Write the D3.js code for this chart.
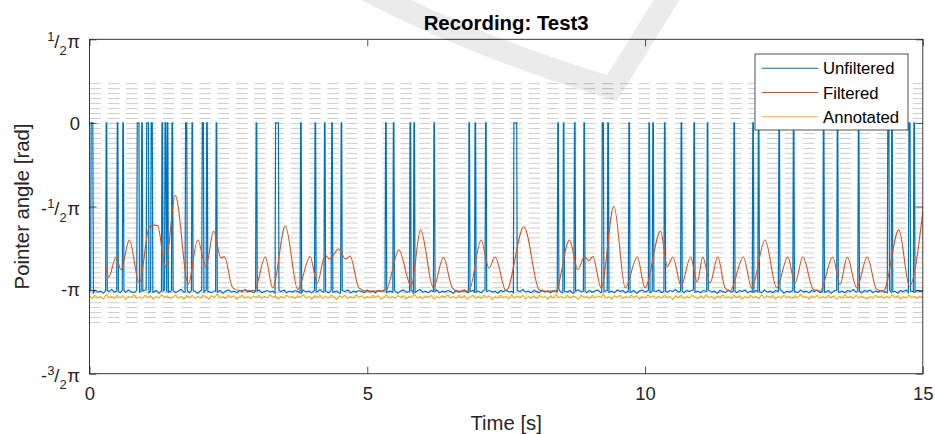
<!DOCTYPE html>
<html>
<head>
<meta charset="utf-8">
<script src="https://cdn.jsdelivr.net/npm/d3@7"></script>
<style>
  body { margin: 0; background: #fff; }
  svg { display: block; font-family: "Liberation Sans", Arial, Helvetica, sans-serif; }
</style>
</head>
<body>
<svg id="chart" width="935" height="434"></svg>
<script>
// ---- data ----
const chartTitle = 'Recording: Test3';
const xLabel = 'Time [s]';
const yLabel = 'Pointer angle [rad]';
const xTicks = [0, 5, 10, 15];
const yTicks = [0.5 * Math.PI, 0, -0.5 * Math.PI, -Math.PI, -1.5 * Math.PI];
// [sign, numerator, denominator] or plain text
const yTickLabels = [['', '1', '2'], '0', ['-', '1', '2'], '-\u03c0', ['-', '3', '2']];
const seriesNames = ['Unfiltered', 'Filtered', 'Annotated'];

// reference scale marks (dashed grey lines), rad
const markTop = 0.737, markStep = 0.0935, markCount = 49;

// baseline samples every 0.05 s, t = 0 .. 15
const sampleStep = 0.05;
const unfilteredBase = [
  -3.15,-3.19,-3.14,-3.18,-3.16,-3.20,-3.15,-3.17,-3.13,-3.18,-3.16,-3.19,-3.15,-3.18,-3.14,-3.17,-3.19,-3.15,-3.18,-3.16,
  -3.14,-3.19,-3.16,-3.18,-3.15,-3.20,-3.16,-3.14,-3.18,-3.17,-3.15,-3.19,-3.16,-3.13,-3.18,-3.16,-3.19,-3.15,-3.17,-3.20,
  -3.15,-3.18,-3.14,-3.17,-3.19,-3.16,-3.18,-3.15,-3.20,-3.16,-3.14,-3.18,-3.16,-3.19,-3.15,-3.17,-3.13,-3.18,-3.16,-3.19,
  -3.16,-3.14,-3.19,-3.17,-3.15,-3.18,-3.16,-3.20,-3.15,-3.17,-3.14,-3.19,-3.16,-3.18,-3.15,-3.17,-3.19,-3.14,-3.18,-3.16,
  -3.19,-3.15,-3.17,-3.13,-3.18,-3.16,-3.19,-3.15,-3.18,-3.16,-3.20,-3.15,-3.17,-3.14,-3.19,-3.16,-3.18,-3.15,-3.17,-3.19,
  -3.14,-3.18,-3.16,-3.19,-3.15,-3.17,-3.14,-3.19,-3.16,-3.18,-3.15,-3.20,-3.16,-3.14,-3.18,-3.17,-3.15,-3.19,-3.16,-3.13,
  -3.18,-3.16,-3.19,-3.15,-3.17,-3.14,-3.19,-3.16,-3.18,-3.15,-3.17,-3.20,-3.15,-3.18,-3.16,-3.14,-3.19,-3.17,-3.15,-3.18,
  -3.16,-3.19,-3.14,-3.17,-3.15,-3.18,-3.16,-3.20,-3.15,-3.17,-3.14,-3.18,-3.16,-3.19,-3.15,-3.17,-3.13,-3.18,-3.16,-3.19,
  -3.15,-3.17,-3.19,-3.14,-3.18,-3.16,-3.19,-3.15,-3.17,-3.14,-3.19,-3.16,-3.18,-3.15,-3.20,-3.16,-3.14,-3.18,-3.16,-3.19,
  -3.15,-3.18,-3.16,-3.14,-3.19,-3.17,-3.15,-3.18,-3.16,-3.19,-3.14,-3.17,-3.15,-3.19,-3.16,-3.18,-3.15,-3.20,-3.16,-3.14,
  -3.18,-3.15,-3.19,-3.16,-3.17,-3.14,-3.19,-3.16,-3.18,-3.15,-3.17,-3.13,-3.18,-3.16,-3.19,-3.15,-3.17,-3.14,-3.18,-3.16,
  -3.19,-3.15,-3.17,-3.14,-3.18,-3.16,-3.20,-3.15,-3.17,-3.19,-3.14,-3.18,-3.16,-3.19,-3.15,-3.17,-3.14,-3.19,-3.16,-3.18,
  -3.15,-3.17,-3.19,-3.14,-3.18,-3.16,-3.19,-3.15,-3.17,-3.14,-3.20,-3.16,-3.18,-3.15,-3.17,-3.19,-3.14,-3.18,-3.16,-3.19,
  -3.15,-3.17,-3.14,-3.19,-3.16,-3.18,-3.15,-3.20,-3.16,-3.14,-3.18,-3.16,-3.19,-3.15,-3.17,-3.13,-3.18,-3.16,-3.19,-3.15,
  -3.17,-3.14,-3.19,-3.16,-3.18,-3.15,-3.17,-3.19,-3.14,-3.18,-3.16,-3.20,-3.15,-3.17,-3.14,-3.19,-3.16,-3.18,-3.15,-3.17,
  -3.16
];
// intervals [start, end] (s) where the unfiltered angle jumps to 0
const unfilteredSpikes = [
  [0.03,0.06],[0.30,0.31],[0.50,0.51],[0.60,0.61],[0.86,0.89],[0.94,0.95],[1.03,1.06],[1.11,1.13],
  [1.305,1.315],[1.36,1.37],[1.40,1.41],[1.485,1.495],[1.73,1.75],[1.845,1.855],[2.03,2.05],[2.11,2.12],
  [2.28,2.29],[3.00,3.01],[3.35,3.40],[3.80,3.81],[4.06,4.07],[4.23,4.24],[4.36,4.37],[4.53,4.54],
  [5.33,5.34],[5.47,5.48],[5.77,5.78],[5.84,5.85],[6.20,6.21],[6.83,6.84],[6.94,6.95],[7.13,7.14],
  [7.64,7.69],[8.43,8.44],[8.53,8.54],[8.73,8.74],[8.90,8.91],[9.23,9.25],[9.33,9.34],[9.71,9.72],
  [10.07,10.08],[10.14,10.15],[10.35,10.36],[10.65,10.66],[10.88,10.89],[11.12,11.13],[11.60,11.61],[11.94,11.95],
  [12.04,12.05],[12.41,12.42],[12.67,12.68],[13.21,13.22],[13.46,13.47],[13.84,13.85],[14.37,14.39],[14.44,14.45],
  [14.75,14.77],[14.84,14.85]
];
// filtered signal: knots (time s, angle rad)
const filteredT = [0.30,0.345,0.477,0.567,0.717,0.897,1.077,1.167,1.227,1.365,1.545,1.779,1.947,2.097,2.235,2.367,2.427,2.577,2.697,2.967,
  3.165,3.297,3.525,3.75,3.97,4.10,4.24,4.33,4.48,4.61,4.69,4.85,4.97,5.33,5.57,5.79,5.96,6.19,6.37,6.53,6.62,6.83,
  7.05,7.19,7.30,7.50,7.82,8.09,8.15,8.39,8.64,8.79,8.91,8.99,9.06,9.21,9.44,9.645,9.86,10.0,10.28,10.40,10.50,10.65,
  10.82,10.94,11.04,11.17,11.31,11.44,11.53,11.77,11.92,12.16,12.37,12.57,12.70,12.84,13.03,13.15,13.38,13.51,13.64,13.81,
  14.00,14.17,14.29,14.57,14.76,15.0];
const filteredV = [-2.73,-2.90,-2.52,-2.76,-2.20,-3.01,-1.95,-1.92,-1.93,-2.70,-1.36,-3.03,-2.20,-2.70,-2.03,-2.54,-2.51,-3.10,-3.15,-3.15,
  -2.52,-3.10,-1.94,-3.13,-2.51,-3.01,-2.49,-2.56,-2.37,-2.56,-2.50,-3.10,-3.16,-3.16,-2.39,-3.07,-2.01,-3.10,-2.53,-3.10,-3.16,-3.16,
  -2.20,-2.73,-2.52,-3.16,-1.95,-3.13,-3.16,-3.16,-2.20,-2.76,-2.51,-2.59,-2.51,-3.10,-1.56,-3.10,-2.52,-3.10,-2.03,-2.70,-2.52,-3.06,
  -2.52,-2.99,-2.52,-3.01,-2.52,-3.10,-3.16,-2.52,-3.10,-2.20,-3.10,-2.52,-3.01,-2.52,-3.13,-3.16,-2.52,-3.04,-2.52,-3.10,
  -2.52,-3.13,-3.16,-2.01,-3.07,-1.67];
const annotated = [
  -3.25,-3.30,-3.24,-3.29,-3.26,-3.31,-3.23,-3.28,-3.26,-3.30,-3.24,-3.29,-3.25,-3.31,-3.26,-3.28,-3.23,-3.29,-3.27,-3.30,
  -3.24,-3.28,-3.25,-3.31,-3.26,-3.29,-3.23,-3.28,-3.25,-3.30,-3.27,-3.24,-3.29,-3.26,-3.31,-3.25,-3.28,-3.24,-3.30,-3.26,
  -3.29,-3.24,-3.27,-3.31,-3.25,-3.28,-3.22,-3.29,-3.26,-3.30,-3.24,-3.28,-3.25,-3.31,-3.27,-3.24,-3.29,-3.26,-3.30,-3.25,
  -3.28,-3.24,-3.30,-3.26,-3.29,-3.23,-3.28,-3.25,-3.31,-3.26,-3.29,-3.24,-3.28,-3.26,-3.30,-3.25,-3.27,-3.23,-3.29,-3.26,
  -3.31,-3.25,-3.28,-3.24,-3.30,-3.26,-3.29,-3.24,-3.27,-3.32,-3.25,-3.28,-3.24,-3.30,-3.26,-3.29,-3.23,-3.28,-3.25,-3.30,
  -3.26,-3.29,-3.24,-3.28,-3.25,-3.31,-3.27,-3.24,-3.29,-3.26,-3.30,-3.24,-3.28,-3.25,-3.31,-3.26,-3.28,-3.22,-3.29,-3.26,
  -3.30,-3.25,-3.28,-3.24,-3.31,-3.26,-3.29,-3.25,-3.27,-3.23,-3.29,-3.26,-3.30,-3.24,-3.28,-3.25,-3.31,-3.27,-3.24,-3.29,
  -3.26,-3.30,-3.24,-3.28,-3.25,-3.32,-3.26,-3.29,-3.24,-3.28,-3.26,-3.30,-3.23,-3.29,-3.25,-3.28,-3.24,-3.31,-3.26,-3.29,
  -3.25,-3.30,-3.24,-3.28,-3.26,-3.31,-3.25,-3.29,-3.23,-3.28,-3.26,-3.30,-3.24,-3.29,-3.25,-3.27,-3.31,-3.24,-3.28,-3.26,
  -3.30,-3.24,-3.29,-3.25,-3.28,-3.22,-3.29,-3.26,-3.31,-3.25,-3.28,-3.24,-3.30,-3.26,-3.29,-3.24,-3.28,-3.25,-3.31,-3.26,
  -3.29,-3.23,-3.28,-3.25,-3.30,-3.26,-3.29,-3.24,-3.28,-3.26,-3.32,-3.25,-3.28,-3.24,-3.30,-3.26,-3.29,-3.24,-3.27,-3.30,
  -3.25,-3.29,-3.24,-3.28,-3.26,-3.31,-3.25,-3.28,-3.23,-3.29,-3.26,-3.30,-3.24,-3.28,-3.25,-3.31,-3.26,-3.29,-3.24,-3.28,
  -3.26,-3.30,-3.23,-3.29,-3.25,-3.28,-3.24,-3.31,-3.26,-3.29,-3.24,-3.28,-3.26,-3.30,-3.25,-3.29,-3.22,-3.28,-3.26,-3.31,
  -3.25,-3.28,-3.24,-3.30,-3.26,-3.29,-3.24,-3.28,-3.25,-3.31,-3.26,-3.29,-3.23,-3.28,-3.26,-3.30,-3.24,-3.29,-3.25,-3.28,
  -3.31,-3.26,-3.29,-3.24,-3.28,-3.25,-3.30,-3.26,-3.29,-3.23,-3.28,-3.25,-3.31,-3.26,-3.29,-3.24,-3.28,-3.26,-3.30,-3.25,
  -3.28
];

// ---- layout ----
const W = 935, H = 434;
const margin = {left: 89.5, right: 12.2, top: 39.3, bottom: 60.3};
const colors = ['#0072BD', '#D95319', '#EDB120'];
const axisColor = '#262626';

const svg = d3.select('#chart');
const width = W - margin.left - margin.right;
const height = H - margin.top - margin.bottom;

const x = d3.scaleLinear().domain([0, 15]).range([0, width]);
const y = d3.scaleLinear().domain([-1.5 * Math.PI, 0.5 * Math.PI]).range([height, 0]);

svg.append('rect').attr('width', W).attr('height', H).attr('fill', '#fff');

const g = svg.append('g').attr('transform', `translate(${margin.left},${margin.top})`);

g.append('clipPath').attr('id', 'plotclip')
  .append('rect').attr('width', width).attr('height', height);

const plot = g.append('g').attr('clip-path', 'url(#plotclip)');

// dashed scale marks
const markLevels = d3.range(markCount).map(i => markTop - i * markStep);
plot.append('g').selectAll('line')
  .data(markLevels)
  .enter()
  .append('line')
    .attr('x1', 0).attr('x2', width)
    .attr('y1', d => y(d)).attr('y2', d => y(d))
    .attr('stroke', '#cdcdcd')
    .attr('stroke-width', 1)
    .attr('stroke-dasharray', '11.6 6.7');

// build unfiltered point list: baseline samples + spikes
let unfilteredPts = unfilteredBase.map((v, i) => [i * sampleStep, v]);
const baseAt = t => unfilteredBase[Math.max(0, Math.min(unfilteredBase.length - 1, Math.round(t / sampleStep)))];
unfilteredSpikes.forEach(([s, e]) => {
  unfilteredPts = unfilteredPts.filter(p => p[0] < s - 0.02 || p[0] > e + 0.02);
  unfilteredPts.push([s - 0.01, baseAt(s - 0.01)], [s, 0], [e, 0], [e + 0.01, baseAt(e + 0.01)]);
});
unfilteredPts.sort((a, b) => a[0] - b[0]);

const filteredPts = filteredT.map((t, i) => [t, filteredV[i]]);
const annotatedPts = annotated.map((v, i) => [i * sampleStep, v]);

const line = d3.line().x(d => x(d[0])).y(d => y(d[1]));
const smooth = d3.line().x(d => x(d[0])).y(d => y(d[1])).curve(d3.curveMonotoneX);

plot.append('path').datum(unfilteredPts)
  .attr('d', line).attr('fill', 'none')
  .attr('stroke', colors[0]).attr('stroke-width', 1.2);
plot.append('path').datum(filteredPts)
  .attr('d', smooth).attr('fill', 'none')
  .attr('stroke', colors[1]).attr('stroke-width', 1.1);
plot.append('path').datum(annotatedPts)
  .attr('d', line).attr('fill', 'none')
  .attr('stroke', colors[2]).attr('stroke-width', 1.2);

// axes: ticks inside on all four sides
const tickLen = 7;
const xAxis = g.append('g').attr('transform', `translate(0,${height})`)
  .call(d3.axisBottom(x).tickValues(xTicks).tickSize(-tickLen).tickFormat(d3.format('d')));
g.append('g').call(d3.axisTop(x).tickValues(xTicks).tickSize(-tickLen).tickFormat(''));
const yAxis = g.append('g').call(d3.axisLeft(y).tickValues(yTicks).tickSize(-tickLen).tickFormat(''));
g.append('g').attr('transform', `translate(${width},0)`)
  .call(d3.axisRight(y).tickValues(yTicks).tickSize(-tickLen).tickFormat(''));

g.selectAll('.domain').remove();
g.selectAll('.tick line').attr('stroke', axisColor).attr('stroke-width', 0.8);

xAxis.selectAll('.tick text')
  .attr('y', 26.3).attr('dy', null)
  .attr('font-size', 18.5)
  .attr('font-family', '"Liberation Sans", Arial, sans-serif')
  .attr('fill', axisColor);

yAxis.selectAll('.tick').each(function(d, i) {
  const lab = yTickLabels[i];
  const t = d3.select(this).select('text')
    .attr('x', -9.5).attr('dy', null)
    .attr('font-size', 18.5)
    .attr('font-family', '"Liberation Sans", Arial, sans-serif')
    .attr('fill', axisColor)
    .attr('text-anchor', 'end');
  if (typeof lab === 'string') {
    t.attr('y', lab === '0' ? 6.8 : 5).text(lab);
  } else {
    t.attr('y', 8);
    if (lab[0]) t.append('tspan').text(lab[0]);
    t.append('tspan').attr('font-size', 13).attr('dy', -7).text(lab[1]);
    t.append('tspan').attr('dy', 7).text('/');
    t.append('tspan').attr('font-size', 13).attr('dy', 7).text(lab[2]);
    t.append('tspan').attr('dy', -7).attr('dx', 0.5).text('\u03c0');
  }
});

// box
g.append('rect')
  .attr('width', width).attr('height', height)
  .attr('fill', 'none').attr('stroke', axisColor).attr('stroke-width', 0.9);

// labels
svg.append('text')
  .attr('x', margin.left + width / 2).attr('y', 30)
  .attr('text-anchor', 'middle')
  .attr('font-size', 20.4).attr('font-weight', 'bold')
  .attr('fill', '#000')
  .text(chartTitle);

svg.append('text')
  .attr('x', margin.left + width / 2).attr('y', 429.5)
  .attr('text-anchor', 'middle')
  .attr('font-size', 20.3)
  .attr('fill', axisColor)
  .text(xLabel);

svg.append('text')
  .attr('transform', `translate(28.5,${margin.top + height / 2}) rotate(-90)`)
  .attr('text-anchor', 'middle')
  .attr('font-size', 20.3)
  .attr('fill', axisColor)
  .text(yLabel);

// legend
const legend = svg.append('g').attr('transform', 'translate(755,54)');
legend.append('rect')
  .attr('width', 153).attr('height', 76)
  .attr('fill', '#fff').attr('stroke', axisColor).attr('stroke-width', 0.8);
seriesNames.forEach((name, i) => {
  const ly = 14.3 + i * 24.2;
  legend.append('line')
    .attr('x1', 6.7).attr('x2', 63.3).attr('y1', ly).attr('y2', ly)
    .attr('stroke', colors[i]).attr('stroke-width', 1.1);
  legend.append('text')
    .attr('x', 68).attr('y', ly + 6)
    .attr('font-size', 16.7).attr('fill', '#000')
    .text(name);
});

// faint watermark stroke over the figure
svg.append('path')
  .attr('d', 'M 362,-12 Q 470,45 612,88 L 674,-12')
  .attr('fill', 'none')
  .attr('stroke', '#000').attr('stroke-opacity', 0.08)
  .attr('stroke-width', 22).attr('stroke-linejoin', 'miter');
</script>
</body>
</html>
